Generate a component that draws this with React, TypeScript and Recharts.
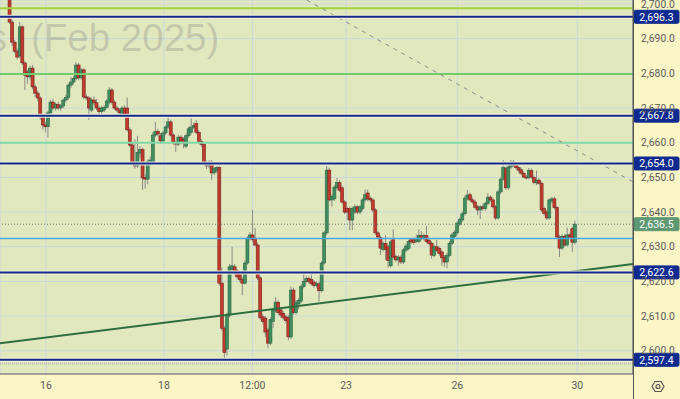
import React from 'react';
import { ComposedChart, Bar, XAxis, YAxis, CartesianGrid, ReferenceLine } from 'recharts';

// ---- data (hourly candles, index 3 .. 224) ----
const firstIndex = 3;
const opens = [
  2703.0, 2694.8, 2689.0, 2686.4, 2685.0, 2693.4, 2683.0, 2680.4, 2679.0, 2681.5,
  2676.1, 2674.3, 2672.9, 2667.4, 2665.1, 2664.6, 2668.6, 2671.7, 2670.0, 2671.0,
  2670.0, 2670.6, 2672.3, 2673.0, 2676.6, 2677.5, 2678.5, 2682.4, 2678.7, 2681.0,
  2673.2, 2672.9, 2669.4, 2672.3, 2671.5, 2670.0, 2669.0, 2669.4, 2670.2, 2671.7,
  2675.2, 2671.7, 2670.0, 2669.4, 2668.2, 2670.0, 2670.0, 2663.7, 2659.3, 2654.4,
  2653.3, 2657.0, 2658.0, 2650.0, 2649.5, 2654.0, 2654.5, 2662.2, 2663.2, 2662.0,
  2660.5, 2662.8, 2664.5, 2666.0, 2662.2, 2660.0, 2659.6, 2661.6, 2661.0, 2659.0,
  2662.0, 2663.0, 2664.5, 2665.5, 2663.0, 2660.3, 2659.5, 2654.1, 2653.3, 2654.4,
  2651.3, 2652.0, 2652.8, 2619.5, 2606.5, 2600.5, 2610.3, 2623.5, 2624.2, 2623.0,
  2622.0, 2620.5, 2619.5, 2625.3, 2632.5, 2633.4, 2632.5, 2630.5, 2621.0, 2609.8,
  2609.4, 2606.0, 2602.2, 2608.5, 2611.5, 2614.0, 2611.8, 2610.8, 2609.8, 2609.5,
  2604.0, 2617.5, 2611.0, 2613.5, 2614.3, 2618.5, 2620.0, 2620.8, 2620.5, 2619.8,
  2618.8, 2619.3, 2617.3, 2625.3, 2634.0, 2652.1, 2643.5, 2643.8, 2647.0, 2648.5,
  2647.0, 2642.9, 2641.0, 2641.0, 2637.7, 2640.0, 2641.5, 2640.0, 2641.0, 2643.5,
  2645.5, 2644.0, 2643.5, 2640.6, 2634.0, 2632.6, 2629.2, 2631.0, 2630.0, 2624.5,
  2632.0, 2627.2, 2626.2, 2627.0, 2625.6, 2629.0, 2629.5, 2632.0, 2632.0, 2631.5,
  2631.5, 2633.2, 2632.3, 2633.2, 2631.8, 2631.0, 2627.5, 2630.0, 2629.5, 2628.5,
  2627.0, 2625.6, 2627.5, 2631.0, 2633.0, 2634.0, 2636.5, 2637.7, 2639.5, 2644.0,
  2645.0, 2643.5, 2642.9, 2641.5, 2640.6, 2641.5, 2641.0, 2642.5, 2644.3, 2643.5,
  2641.5, 2638.3, 2645.8, 2649.5, 2652.5, 2647.0, 2653.0, 2654.4, 2653.8, 2652.8,
  2652.2, 2651.2, 2650.1, 2649.9, 2652.0, 2650.0, 2648.4, 2649.2, 2648.3, 2641.0,
  2640.0, 2638.3, 2643.2, 2643.8, 2641.3, 2632.8, 2629.6, 2633.0, 2630.5, 2633.4,
  2635.2, 2631.3,
];
const highs = [
  2704.0, 2695.5, 2689.6, 2687.2, 2694.8, 2694.0, 2683.5, 2681.0, 2682.2, 2682.4,
  2676.8, 2675.0, 2673.4, 2668.0, 2666.0, 2669.2, 2672.4, 2672.6, 2671.6, 2671.8,
  2671.2, 2672.8, 2673.8, 2677.2, 2679.0, 2679.2, 2683.2, 2683.0, 2681.6, 2681.5,
  2674.0, 2673.5, 2673.0, 2673.4, 2672.6, 2670.6, 2670.6, 2670.8, 2672.6, 2676.0,
  2675.8, 2672.2, 2670.6, 2670.0, 2670.6, 2670.8, 2673.0, 2664.4, 2660.0, 2661.0,
  2662.0, 2659.0, 2658.6, 2651.0, 2655.2, 2656.0, 2663.0, 2666.0, 2664.0, 2662.8,
  2663.4, 2665.0, 2667.4, 2666.6, 2662.8, 2660.6, 2662.2, 2662.2, 2661.6, 2662.6,
  2664.6, 2667.0, 2665.8, 2666.5, 2663.6, 2661.0, 2660.0, 2654.8, 2655.0, 2655.0,
  2653.0, 2653.2, 2653.4, 2624.0, 2607.2, 2611.0, 2625.0, 2630.0, 2625.0, 2623.6,
  2622.6, 2621.2, 2626.0, 2633.0, 2634.2, 2640.6, 2635.4, 2631.2, 2621.6, 2610.6,
  2610.0, 2606.6, 2609.6, 2612.4, 2615.5, 2614.6, 2612.4, 2611.4, 2610.4, 2610.2,
  2618.5, 2618.2, 2614.6, 2615.2, 2619.2, 2622.5, 2621.6, 2621.4, 2622.5, 2620.4,
  2620.0, 2620.0, 2625.8, 2634.6, 2653.3, 2652.8, 2645.2, 2647.8, 2649.8, 2649.2,
  2647.6, 2643.5, 2641.6, 2641.6, 2641.6, 2642.2, 2642.0, 2642.0, 2644.0, 2646.5,
  2646.5, 2644.6, 2644.0, 2641.2, 2634.6, 2633.2, 2631.6, 2633.4, 2630.6, 2632.0,
  2635.0, 2627.8, 2627.6, 2627.6, 2629.6, 2630.8, 2632.0, 2632.6, 2632.6, 2633.6,
  2635.0, 2634.5, 2633.8, 2636.0, 2632.4, 2631.6, 2630.6, 2632.0, 2630.0, 2629.0,
  2627.6, 2628.2, 2631.6, 2634.0, 2634.8, 2637.4, 2638.4, 2640.2, 2644.8, 2646.4,
  2645.6, 2644.2, 2643.6, 2642.0, 2642.0, 2642.2, 2643.0, 2645.5, 2644.8, 2644.0,
  2642.0, 2646.4, 2650.0, 2655.0, 2653.2, 2653.6, 2655.0, 2655.0, 2654.4, 2653.4,
  2652.8, 2651.8, 2650.8, 2652.7, 2652.6, 2650.6, 2652.0, 2649.8, 2648.8, 2641.6,
  2640.6, 2644.0, 2644.4, 2644.4, 2641.8, 2633.4, 2633.6, 2633.6, 2635.5, 2634.0,
  2635.8, 2637.5,
];
const lows = [
  2694.3, 2687.8, 2685.8, 2684.0, 2684.4, 2682.4, 2675.2, 2677.0, 2678.2, 2675.4,
  2673.2, 2672.0, 2666.6, 2663.7, 2663.0, 2661.5, 2667.8, 2669.4, 2669.2, 2669.4,
  2669.2, 2670.0, 2671.6, 2672.4, 2675.8, 2676.8, 2678.0, 2678.0, 2678.2, 2672.6,
  2672.2, 2666.6, 2668.8, 2670.8, 2669.4, 2668.2, 2668.4, 2668.8, 2669.8, 2671.0,
  2671.0, 2669.4, 2668.8, 2667.8, 2667.6, 2667.6, 2663.2, 2658.8, 2653.6, 2652.5,
  2652.8, 2655.6, 2646.4, 2646.8, 2648.0, 2653.4, 2654.0, 2661.6, 2661.8, 2659.6,
  2660.0, 2662.2, 2664.0, 2661.8, 2659.4, 2657.3, 2659.0, 2660.0, 2658.4, 2658.4,
  2661.4, 2662.4, 2664.0, 2662.4, 2659.6, 2658.8, 2653.6, 2652.4, 2652.6, 2649.2,
  2650.6, 2651.2, 2618.8, 2605.8, 2597.4, 2598.6, 2609.6, 2622.8, 2621.8, 2620.6,
  2619.8, 2616.0, 2619.0, 2624.8, 2631.8, 2631.4, 2630.0, 2620.4, 2608.8, 2607.8,
  2604.0, 2600.8, 2601.6, 2606.5, 2611.0, 2610.4, 2609.6, 2608.8, 2608.0, 2603.0,
  2603.4, 2610.4, 2610.4, 2612.0, 2613.8, 2618.0, 2619.4, 2619.4, 2618.8, 2618.2,
  2618.2, 2614.2, 2616.8, 2624.8, 2633.4, 2643.0, 2641.6, 2643.2, 2646.4, 2645.8,
  2642.4, 2639.4, 2637.7, 2634.8, 2634.8, 2639.4, 2639.4, 2639.4, 2640.4, 2642.8,
  2643.2, 2642.8, 2640.0, 2633.4, 2632.2, 2627.6, 2628.6, 2626.2, 2624.0, 2624.0,
  2626.4, 2625.6, 2624.5, 2625.0, 2625.0, 2628.4, 2629.0, 2630.8, 2630.6, 2631.0,
  2631.0, 2631.8, 2631.8, 2631.0, 2630.4, 2626.5, 2627.0, 2628.4, 2627.4, 2624.5,
  2624.2, 2623.8, 2627.0, 2630.4, 2632.4, 2633.4, 2636.0, 2637.2, 2639.0, 2643.4,
  2643.0, 2642.4, 2640.8, 2639.1, 2638.0, 2640.4, 2640.4, 2642.0, 2643.0, 2641.0,
  2637.7, 2637.8, 2645.2, 2649.0, 2646.4, 2646.4, 2652.4, 2653.0, 2652.2, 2651.4,
  2650.6, 2649.8, 2649.4, 2649.4, 2649.6, 2648.0, 2647.8, 2647.8, 2640.0, 2639.0,
  2637.7, 2637.8, 2642.6, 2640.8, 2632.2, 2627.0, 2629.0, 2630.0, 2630.0, 2632.2,
  2628.5, 2630.6,
];
const closes = [
  2694.8, 2689.0, 2686.4, 2684.7, 2693.4, 2683.0, 2679.5, 2679.0, 2681.5, 2676.1,
  2674.3, 2672.9, 2667.4, 2665.1, 2664.6, 2668.6, 2671.7, 2670.0, 2671.0, 2670.0,
  2670.6, 2672.3, 2673.0, 2676.6, 2677.5, 2678.5, 2682.4, 2678.7, 2681.0, 2673.2,
  2672.9, 2670.0, 2672.3, 2671.5, 2670.0, 2669.0, 2670.0, 2670.2, 2672.0, 2675.2,
  2671.7, 2670.0, 2669.4, 2668.6, 2670.0, 2668.2, 2663.7, 2659.3, 2654.1, 2653.3,
  2657.2, 2658.0, 2649.8, 2649.5, 2654.5, 2655.0, 2662.2, 2663.2, 2662.5, 2660.5,
  2662.8, 2664.5, 2666.0, 2662.2, 2660.0, 2659.6, 2661.6, 2660.5, 2659.9, 2662.0,
  2664.0, 2664.5, 2665.0, 2663.0, 2660.3, 2659.5, 2654.1, 2653.3, 2654.2, 2651.3,
  2652.5, 2652.8, 2619.5, 2606.5, 2599.5, 2610.3, 2624.2, 2624.5, 2622.4, 2621.3,
  2620.5, 2619.5, 2625.3, 2632.5, 2633.4, 2632.0, 2630.5, 2621.0, 2609.5, 2608.5,
  2605.4, 2602.2, 2609.0, 2611.8, 2614.0, 2611.0, 2610.3, 2609.5, 2608.7, 2604.0,
  2617.5, 2611.0, 2614.0, 2614.5, 2618.5, 2620.0, 2620.8, 2620.0, 2619.3, 2618.8,
  2619.3, 2617.3, 2625.3, 2634.0, 2652.1, 2643.5, 2644.5, 2647.2, 2648.5, 2646.3,
  2642.9, 2640.0, 2640.0, 2637.7, 2641.0, 2641.5, 2640.0, 2641.5, 2643.5, 2645.0,
  2643.8, 2643.5, 2640.6, 2634.0, 2632.8, 2629.6, 2631.0, 2629.2, 2626.0, 2631.4,
  2627.0, 2626.2, 2627.0, 2625.6, 2629.1, 2630.2, 2631.5, 2631.4, 2631.2, 2632.0,
  2633.2, 2632.3, 2633.2, 2631.5, 2631.0, 2627.6, 2630.0, 2629.0, 2628.0, 2626.8,
  2625.6, 2627.5, 2631.0, 2633.4, 2634.2, 2636.8, 2637.8, 2639.5, 2644.0, 2644.9,
  2643.5, 2642.9, 2641.4, 2640.6, 2641.5, 2641.0, 2642.5, 2644.3, 2643.5, 2641.5,
  2638.3, 2645.8, 2649.5, 2652.8, 2647.0, 2653.0, 2654.4, 2653.6, 2652.8, 2652.1,
  2651.2, 2650.1, 2649.9, 2652.0, 2650.1, 2648.6, 2649.2, 2648.3, 2640.6, 2639.6,
  2638.3, 2643.5, 2643.8, 2641.3, 2632.8, 2629.6, 2633.0, 2630.5, 2633.4, 2632.8,
  2631.3, 2636.5,
];

const xTickPositions = [17.2, 63.3, 97.9, 134.5, 178.0, 224.9];
const xTickLabels = ['16', '18', '12:00', '23', '26', '30'];
const yTicks = [2600, 2610, 2620, 2630, 2640, 2650, 2660, 2670, 2680, 2690, 2700];

const keyLevels = [2696.3, 2667.8, 2654.0, 2622.6, 2597.4];
const lastPrice = 2636.5;
const limeLevel = 2698.8;
const greenLevel = 2679.8;
const mintLevel = 2660.0;
const blueLevel = 2632.4;
const dottedLevel = 2596.3;
const trendLine = [{ x: -0.78, y: 2602.2 }, { x: 246.68, y: 2625.0 }];
const fanLine = [{ x: 119.2, y: 2701.1 }, { x: 246.68, y: 2648.7 }];

const xDomain: [number, number] = [-0.78, 246.68];
const yDomain: [number, number] = [2593.3, 2701.15];

const data = opens.map((o, k) => ({
  i: firstIndex + k,
  o,
  h: highs[k],
  l: lows[k],
  c: closes[k],
  range: [lows[k], highs[k]],
}));

const fmt = (v: number) =>
  v.toLocaleString('en-US', { minimumFractionDigits: 1, maximumFractionDigits: 1 });

const FONT = 'Roboto, "Liberation Sans", sans-serif';

const Candle = (props: any) => {
  const { x, y, width, height, payload } = props;
  if (!payload || x == null || y == null) return null;
  const { o, h, l, c } = payload;
  const top = Math.min(y, y + height);
  const hh = Math.abs(height);
  const cx = x + width / 2;
  const span = h - l || 1;
  const py = (v: number) => top + ((h - v) / span) * hh;
  const up = c >= o;
  const bTop = py(Math.max(o, c));
  const bBot = py(Math.min(o, c));
  const bh = Math.max(1, bBot - bTop);
  return (
    <g>
      <line x1={cx} x2={cx} y1={top} y2={top + hh} stroke="#8a8a86" strokeWidth={1} />
      <rect
        x={cx - 1.5}
        y={bTop}
        width={3}
        height={bh}
        fill={up ? '#3f8f60' : '#c23b2f'}
        stroke={up ? '#2b6642' : '#7a2119'}
        strokeWidth={0.6}
      />
    </g>
  );
};

const badge = (text: string, bg: string) => (props: any) => {
  const vb = props.viewBox || {};
  const bx = (vb.x || 0) + (vb.width || 0) + 1;
  const by = vb.y || 0;
  return (
    <g>
      <rect x={bx} y={by - 6.5} width={45} height={13} fill={bg} stroke={bg} rx={1.5} />
      <text
        x={bx + 22.5}
        y={by}
        dy="0.36em"
        textAnchor="middle"
        fill="#ffffff"
        stroke="none"
        fontSize={10.5}
        fontFamily={FONT}
      >
        {text}
      </text>
    </g>
  );
};

export default function App() {
  return (
    <div
      style={{
        position: 'absolute',
        left: 0,
        top: 0,
        width: 680,
        height: 399,
        background: '#fcf6c6',
        overflow: 'hidden',
      }}
    >
      <ComposedChart
        width={680}
        height={399}
        data={data}
        margin={{ top: 0, right: 0, bottom: 0, left: 0 }}
      >
        <CartesianGrid stroke="#cbd7db" strokeWidth={1} fill="#e2e8be" />
        <text
          x={7}
          y={51}
          textAnchor="end"
          fontSize={38.5}
          fontFamily='"Liberation Sans", Arial, sans-serif'
          fill="rgb(120,120,120)"
          fillOpacity={0.28}
        >
          Gold Futures
        </text>
        <text
          x={31}
          y={51}
          fontSize={38.5}
          fontFamily='"Liberation Sans", Arial, sans-serif'
          fill="rgb(120,120,120)"
          fillOpacity={0.28}
        >
          (Feb 2025)
        </text>
        <XAxis
          dataKey="i"
          type="number"
          domain={xDomain}
          allowDataOverflow
          ticks={xTickPositions}
          interval={0}
          tickFormatter={(v: number) => xTickLabels[xTickPositions.indexOf(v)] ?? ''}
          tickLine={false}
          axisLine={{ stroke: '#a3a39a', strokeWidth: 2 }}
          tick={{ fill: '#5a5a5a', fontSize: 10.5, fontFamily: FONT }}
          height={25}
        />
        <YAxis
          orientation="right"
          type="number"
          domain={yDomain}
          allowDataOverflow
          ticks={yTicks}
          interval={0}
          tickFormatter={fmt}
          tickLine={false}
          axisLine={{ stroke: '#555555', strokeWidth: 1 }}
          tick={{ fill: '#5a5a5a', fontSize: 10.3, fontFamily: FONT }}
          width={47}
        />
        <ReferenceLine y={limeLevel} stroke="#a6d43c" strokeWidth={2} />
        <ReferenceLine y={greenLevel} stroke="#72cc6e" strokeWidth={2} />
        <ReferenceLine y={mintLevel} stroke="#80d9a9" strokeWidth={2} />
        <ReferenceLine y={blueLevel} stroke="#4ba8e0" strokeWidth={1.5} />
        <ReferenceLine y={dottedLevel} stroke="#b9b9ae" strokeWidth={1.5} strokeDasharray="1 1" />
        <ReferenceLine
          segment={fanLine}
          stroke="#8c8c86"
          strokeWidth={1}
          strokeDasharray="4 5"
          ifOverflow="visible"
        />
        <ReferenceLine segment={trendLine} stroke="#2e6e3e" strokeWidth={2} ifOverflow="visible" />
        <Bar dataKey="range" barSize={3} shape={Candle} isAnimationActive={false} />
        <ReferenceLine y={lastPrice} stroke="#7a7a74" strokeWidth={1} strokeDasharray="1 2" />
        {keyLevels.map((lv) => (
          <ReferenceLine key={'h' + lv} y={lv} stroke="#f3f3dc" strokeWidth={4} />
        ))}
        {keyLevels.map((lv) => (
          <ReferenceLine
            key={'n' + lv}
            y={lv}
            stroke="#14288c"
            strokeWidth={2}
            label={{ content: badge(fmt(lv), '#0f2b8f') }}
          />
        ))}
        <ReferenceLine
          key="last-badge"
          y={lastPrice}
          stroke="none"
          strokeWidth={0}
          label={{ content: badge(fmt(lastPrice), '#5f9873') }}
        />
      </ComposedChart>
      <svg
        width={680}
        height={399}
        style={{ position: 'absolute', left: 0, top: 0, pointerEvents: 'none' }}
      >
        <line x1={633.5} x2={633.5} y1={0} y2={399} stroke="#555555" strokeWidth={1} />
        <polygon
          points="652,386.5 655,381.5 661,381.5 664,386.5 661,391.5 655,391.5"
          fill="none"
          stroke="#555555"
          strokeWidth={1.2}
        />
        <circle cx={658} cy={386.5} r={2} fill="none" stroke="#555555" strokeWidth={1.2} />
      </svg>
    </div>
  );
}
